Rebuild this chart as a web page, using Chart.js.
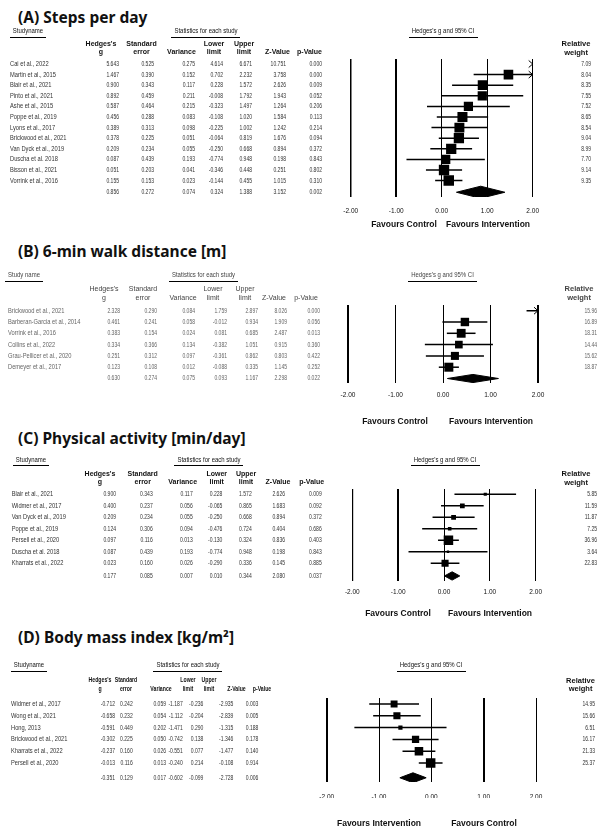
<!DOCTYPE html>
<html>
<head>
<meta charset="utf-8">
<title>Forest plots</title>
<script src="https://cdn.jsdelivr.net/npm/chart.js@4.4.1/dist/chart.umd.min.js"></script>
<style>
  html, body { margin:0; padding:0; background:#fff; }
  body { position:relative; width:611px; height:834px; overflow:hidden; }
  .ttl { position:absolute; left:18px; font-family:"Noto Sans","Open Sans",sans-serif; font-weight:700; font-size:15.5px; line-height:18px; color:#111; white-space:nowrap; }
  canvas { position:absolute; left:0; }
</style>
</head>
<body>
<div id="tA" class="ttl" style="top:8px"></div>
<div id="tB" class="ttl" style="top:242px"></div>
<div id="tC" class="ttl" style="top:429px"></div>
<div id="tD" class="ttl" style="top:628px"></div>
<canvas id="cA"></canvas>
<canvas id="cB"></canvas>
<canvas id="cC"></canvas>
<canvas id="cD"></canvas>
<script>
// ================= DATA =================
const panelTitles = ['(A) Steps per day', '(B) 6-min walk distance [m]', '(C) Physical activity [min/day]', '(D) Body mass index [kg/m\u00B2]'];
const xTickLabels = ['-2.00', '-1.00', '0.00', '1.00', '2.00'];
const statHeaders1 = ["Hedges's", 'Standard', '', 'Lower', 'Upper', '', ''];
const statHeaders2 = ['g', 'error', 'Variance', 'limit', 'limit', 'Z-Value', 'p-Value'];
const weightHeader = ['Relative', 'weight'];
const groupHeadersA = ['Studyname', 'Statistics for each study', "Hedges's g and 95% CI"];
const groupHeadersB = ['Study name', 'Statistics for each study', "Hedges's g and 95% CI"];
const groupHeadersC = ['Studyname', 'Statistics for each study', "Hedges's g and 95% CI"];
const groupHeadersD = ['Studyname', 'Statistics for each study', "Hedges's g and 95% CI"];
const favoursABC = ['Favours Control', 'Favours Intervention'];
const favoursD = ['Favours Intervention', 'Favours Control'];

// (A) Steps per day
const stepsStudies = ['Cai et al., 2022', 'Martin et al., 2015', 'Blair et al., 2021', 'Pinto et al., 2021', 'Ashe et al., 2015', 'Poppe et al., 2019', 'Lyons et al., 2017', 'Brickwood et al., 2021', 'Van Dyck et al., 2019', 'Duscha et al. 2018', 'Bisson et al., 2021', 'Vorrink et al., 2016'];
const stepsG     = [5.643, 1.467, 0.900, 0.892, 0.587, 0.456, 0.389, 0.378, 0.209, 0.087, 0.051, 0.155];
const stepsSE    = [0.525, 0.390, 0.343, 0.459, 0.464, 0.288, 0.313, 0.225, 0.234, 0.439, 0.203, 0.153];
const stepsVar   = [0.275, 0.152, 0.117, 0.211, 0.215, 0.083, 0.098, 0.051, 0.055, 0.193, 0.041, 0.023];
const stepsLower = [4.614, 0.702, 0.228, -0.008, -0.323, -0.108, -0.225, -0.064, -0.250, -0.774, -0.346, -0.144];
const stepsUpper = [6.671, 2.232, 1.572, 1.792, 1.497, 1.020, 1.002, 0.819, 0.668, 0.948, 0.448, 0.455];
const stepsZ     = [10.751, 3.758, 2.626, 1.943, 1.264, 1.584, 1.242, 1.676, 0.894, 0.198, 0.251, 1.015];
const stepsP     = [0.000, 0.000, 0.009, 0.052, 0.206, 0.113, 0.214, 0.094, 0.372, 0.843, 0.802, 0.310];
const stepsWeight = [7.09, 8.04, 8.35, 7.55, 7.52, 8.65, 8.54, 9.04, 8.99, 7.70, 9.14, 9.35];
const stepsPooled = [0.856, 0.272, 0.074, 0.324, 1.388, 3.152, 0.002];

// (B) 6-min walk distance
const walkStudies = ['Brickwood et al., 2021', 'Barberan-Garcia et al., 2014', 'Vorrink et al., 2016', 'Collins et al., 2022', 'Grau-Pellicer et al., 2020', 'Demeyer et al., 2017'];
const walkG     = [2.328, 0.461, 0.383, 0.334, 0.251, 0.123];
const walkSE    = [0.290, 0.241, 0.154, 0.366, 0.312, 0.108];
const walkVar   = [0.084, 0.058, 0.024, 0.134, 0.097, 0.012];
const walkLower = [1.759, -0.012, 0.081, -0.382, -0.361, -0.088];
const walkUpper = [2.897, 0.934, 0.685, 1.051, 0.862, 0.335];
const walkZ     = [8.026, 1.909, 2.487, 0.915, 0.803, 1.145];
const walkP     = [0.000, 0.056, 0.013, 0.360, 0.422, 0.252];
const walkWeight = [15.96, 16.89, 18.31, 14.44, 15.62, 18.87];
const walkPooled = [0.630, 0.274, 0.075, 0.093, 1.167, 2.298, 0.022];

// (C) Physical activity
const paStudies = ['Blair et al., 2021', 'Widmer et al., 2017', 'Van Dyck et al., 2019', 'Poppe et al., 2019', 'Persell et al., 2020', 'Duscha et al. 2018', 'Kharrats et al., 2022'];
const paG     = [0.900, 0.400, 0.209, 0.124, 0.097, 0.087, 0.023];
const paSE    = [0.343, 0.237, 0.234, 0.306, 0.116, 0.439, 0.160];
const paVar   = [0.117, 0.056, 0.055, 0.094, 0.013, 0.193, 0.026];
const paLower = [0.228, -0.065, -0.250, -0.476, -0.130, -0.774, -0.290];
const paUpper = [1.572, 0.865, 0.668, 0.724, 0.324, 0.948, 0.336];
const paZ     = [2.626, 1.683, 0.894, 0.404, 0.836, 0.198, 0.145];
const paP     = [0.009, 0.092, 0.372, 0.686, 0.403, 0.843, 0.885];
const paWeight = [5.85, 11.59, 11.87, 7.25, 36.96, 3.64, 22.83];
const paPooled = [0.177, 0.085, 0.007, 0.010, 0.344, 2.080, 0.037];

// (D) Body mass index
const bmiStudies = ['Widmer et al., 2017', 'Wong et al., 2021', 'Hong, 2013', 'Brickwood et al., 2021', 'Kharrats et al., 2022', 'Persell et al., 2020'];
const bmiG     = [-0.712, -0.658, -0.591, -0.302, -0.237, -0.013];
const bmiSE    = [0.242, 0.232, 0.449, 0.225, 0.160, 0.116];
const bmiVar   = [0.059, 0.054, 0.202, 0.050, 0.026, 0.013];
const bmiLower = [-1.187, -1.112, -1.471, -0.742, -0.551, -0.240];
const bmiUpper = [-0.236, -0.204, 0.290, 0.138, 0.077, 0.214];
const bmiZ     = [-2.935, -2.839, -1.315, -1.346, -1.477, -0.108];
const bmiP     = [0.003, 0.005, 0.188, 0.178, 0.140, 0.914];
const bmiWeight = [14.95, 15.66, 6.51, 16.17, 21.33, 25.37];
const bmiPooled = [-0.351, 0.129, 0.017, -0.602, -0.099, -2.728, 0.006];

// ================= LAYOUT (page pixels) =================
const layoutA = { top:22, bottom:236, xL:350.7, xR:532.7, lineTop:59, lineBottom:197, rowTop:64, step:10.6, pooledGap:0.1,
  grpY:31.5, grpCenters:[28,206,443], hdr1Y:44, hdr2Y:52.5, nameX:10, hdrSx:1,
  numRight:[119,154,195,223,252,286,322], hdrCenter:[101,141.5,181.5,214,244,277.5,309.5],
  relCenter:576, relRight:591, tickPad:10, favY:225, favCenters:[404,488],
  grid:[1.5,2,1,1,1], maxBox:10.5, diamondHalf:0.57, faint:false };
const layoutB = { top:266, bottom:432, xL:348, xR:538, lineTop:305, lineBottom:383, rowTop:310.7, step:11.3, pooledGap:0,
  grpY:275.5, grpCenters:[24,203.5,442.5], hdr1Y:289, hdr2Y:298, nameX:8, hdrSx:1,
  numRight:[120,157,195,227,258,287,320], hdrCenter:[104,143,183,213,245,274,306],
  relCenter:579, relRight:597, tickPad:8, favY:422, favCenters:[395,491],
  grid:[2,1,1,1,2], maxBox:9, diamondHalf:0.36, faint:true };
const layoutC = { top:450, bottom:624, xL:352.3, xR:535.7, lineTop:489, lineBottom:581, rowTop:494.3, step:11.5, pooledGap:0.1,
  grpY:460, grpCenters:[31,209,445], hdr1Y:474, hdr2Y:482.5, nameX:11.7, hdrSx:1,
  numRight:[116,152.7,192.7,222.3,251.7,285,321.7], hdrCenter:[100,142.7,182.7,216.7,246,278,311.7],
  relCenter:576, relRight:597, tickPad:7, favY:614, favCenters:[398,490],
  grid:[1.2,2,1,1,1], maxBox:9.5, diamondHalf:0.36, faint:false };
const layoutD = { top:656, bottom:834, xL:326.7, xR:536, lineTop:698, lineBottom:782, rowTop:704, step:11.8, pooledGap:0.25,
  grpY:665.5, grpCenters:[29,188,431], hdr1Y:680.5, hdr2Y:689, nameX:11, hdrSx:0.74,
  numRight:[115,132.7,166,182.7,203.3,233.3,258.3], hdrCenter:[100,126,161,188,209,236.5,262],
  relCenter:580.5, relRight:595, tickPad:11, favY:824, favCenters:[379,484],
  grid:[2,1,1,2,1], maxBox:9.5, diamondHalf:0.42, faint:false };

const panels = [
  { canvas:'cA', title:'tA', tIdx:0, L:layoutA, names:stepsStudies, g:stepsG, se:stepsSE, v:stepsVar, lo:stepsLower, hi:stepsUpper, z:stepsZ, p:stepsP, w:stepsWeight, pooled:stepsPooled, groups:groupHeadersA, fav:favoursABC },
  { canvas:'cB', title:'tB', tIdx:1, L:layoutB, names:walkStudies, g:walkG, se:walkSE, v:walkVar, lo:walkLower, hi:walkUpper, z:walkZ, p:walkP, w:walkWeight, pooled:walkPooled, groups:groupHeadersB, fav:favoursABC },
  { canvas:'cC', title:'tC', tIdx:2, L:layoutC, names:paStudies, g:paG, se:paSE, v:paVar, lo:paLower, hi:paUpper, z:paZ, p:paP, w:paWeight, pooled:paPooled, groups:groupHeadersC, fav:favoursABC },
  { canvas:'cD', title:'tD', tIdx:3, L:layoutD, names:bmiStudies, g:bmiG, se:bmiSE, v:bmiVar, lo:bmiLower, hi:bmiUpper, z:bmiZ, p:bmiP, w:bmiWeight, pooled:bmiPooled, groups:groupHeadersD, fav:favoursD }
];

const FONT = '"Liberation Sans", Arial, sans-serif';
Chart.defaults.font.family = FONT;

function txt(ctx, s, x, y, font, color, align, sx) {
  ctx.save();
  ctx.font = font; ctx.fillStyle = color; ctx.textBaseline = 'middle'; ctx.textAlign = 'left';
  const w = ctx.measureText(s).width * sx;
  const x0 = align === 'right' ? x - w : (align === 'center' ? x - w / 2 : x);
  ctx.translate(x0, y); ctx.scale(sx, 1); ctx.fillText(s, 0, 0);
  ctx.restore();
  return w;
}

function makeTablePlugin(P, k) {
  return {
    id: 'forestTable' + k,
    afterDraw(chart) {
      const L = P.L, ctx = chart.ctx, ys = chart.scales.y, xs = chart.scales.x, T = L.top;
      const n = P.names.length;
      const hdrColor = L.faint ? '#444' : '#111';
      const dataColor = L.faint ? '#666' : '#333';
      const hdrFont = (L.faint ? '' : 'bold ') + '7px ' + FONT;
      const dataFont = '7px ' + FONT;
      // group headers with underline
      P.groups.forEach((s, j) => {
        const w = txt(ctx, s, L.grpCenters[j], L.grpY - T, '6.5px ' + FONT, hdrColor, 'center', 0.92);
        ctx.fillStyle = '#000';
        ctx.fillRect(Math.round(L.grpCenters[j] - w / 2 - 3), Math.round(L.grpY - T + 5), Math.round(w + 6), 1);
      });
      // column headers
      statHeaders1.forEach((s, j) => { if (s) txt(ctx, s, L.hdrCenter[j], L.hdr1Y - T, hdrFont, hdrColor, 'center', L.hdrSx); });
      statHeaders2.forEach((s, j) => { if (s) txt(ctx, s, L.hdrCenter[j], L.hdr2Y - T, hdrFont, hdrColor, 'center', L.hdrSx); });
      txt(ctx, weightHeader[0], L.relCenter, L.hdr1Y - T, 'bold 7.5px ' + FONT, hdrColor, 'center', 1);
      txt(ctx, weightHeader[1], L.relCenter, L.hdr2Y - T, 'bold 7.5px ' + FONT, hdrColor, 'center', 1);
      // study rows
      const cols = [P.g, P.se, P.v, P.lo, P.hi, P.z, P.p];
      for (let i = 0; i < n; i++) {
        const y = ys.getPixelForValue(i);
        txt(ctx, P.names[i], L.nameX, y, dataFont, dataColor, 'left', 0.82);
        cols.forEach((arr, j) => txt(ctx, arr[i].toFixed(3), L.numRight[j], y, dataFont, dataColor, 'right', 0.72));
        txt(ctx, P.w[i].toFixed(2), L.relRight, y, dataFont, dataColor, 'right', 0.72);
      }
      // pooled row
      const py = ys.getPixelForValue(n + L.pooledGap);
      P.pooled.forEach((v, j) => txt(ctx, v.toFixed(3), L.numRight[j], py, dataFont, dataColor, 'right', 0.72));
      // arrows for CIs running past the axis maximum
      const xMax = xs.max, xr = xs.getPixelForValue(xMax);
      ctx.save();
      ctx.strokeStyle = '#000'; ctx.lineWidth = 1;
      for (let i = 0; i < n; i++) {
        if (P.hi[i] > xMax) {
          const y = ys.getPixelForValue(i);
          ctx.beginPath(); ctx.moveTo(xr - 4, y - 3.5); ctx.lineTo(xr, y); ctx.lineTo(xr - 4, y + 3.5); ctx.stroke();
        }
      }
      ctx.restore();
      // favours labels
      txt(ctx, P.fav[0], L.favCenters[0], L.favY - T, 'bold 8.5px ' + FONT, '#111', 'center', 1);
      txt(ctx, P.fav[1], L.favCenters[1], L.favY - T, 'bold 8.5px ' + FONT, '#111', 'center', 1);
    }
  };
}

function buildDatasets(P) {
  const L = P.L, n = P.names.length;
  const wmax = Math.max(...P.w);
  const ds = [];
  const py = n + L.pooledGap, h = L.diamondHalf;
  const pg = P.pooled[0], plo = P.pooled[3], phi = P.pooled[4];
  ds.push({ type:'line', showLine:true, data:[{x:plo,y:py},{x:pg,y:py-h},{x:phi,y:py}], borderColor:'#000', borderWidth:1, backgroundColor:'#000', fill:'+1', pointRadius:0, tension:0 });
  ds.push({ type:'line', showLine:true, data:[{x:plo,y:py},{x:pg,y:py+h},{x:phi,y:py}], borderColor:'#000', borderWidth:1, backgroundColor:'#000', fill:false, pointRadius:0, tension:0 });
  for (let i = 0; i < n; i++) {
    ds.push({ type:'line', showLine:true, data:[{x:P.lo[i],y:i},{x:P.hi[i],y:i}], borderColor:'#000', borderWidth:1.5, pointRadius:0, fill:false });
  }
  ds.push({ type:'scatter', data:P.g.map((g, i) => ({x:g, y:i})), pointStyle:'rect',
    pointRadius:P.w.map(w => L.maxBox * Math.pow(w / wmax, 0.6) / Math.SQRT2),
    backgroundColor:'#000', borderColor:'#000', borderWidth:0 });
  return ds;
}

panels.forEach((P, k) => {
  const L = P.L;
  document.getElementById(P.title).textContent = panelTitles[P.tIdx];
  const cv = document.getElementById(P.canvas);
  const H = L.bottom - L.top;
  cv.width = 611; cv.height = H; cv.style.top = L.top + 'px';
  const AXH = 16;
  new Chart(cv, {
    type: 'scatter',
    data: { datasets: buildDatasets(P) },
    options: {
      responsive: false, animation: false, events: [],
      layout: { padding: { left: L.xL, right: 611 - L.xR, top: L.lineTop - L.top, bottom: L.bottom - L.lineBottom - AXH } },
      plugins: { legend: { display:false }, tooltip: { enabled:false } },
      scales: {
        x: { type:'linear', min:-2, max:2, position:'bottom',
             ticks: { stepSize:1, autoSkip:false, maxRotation:0, padding:L.tickPad, color:'#111', font:{ size:6.5 },
                      callback: (v, i) => xTickLabels[i] },
             grid: { color:'#000', lineWidth: c => L.grid[c.index] || 1, drawTicks:false },
             border: { display:false },
             afterFit: s => { s.height = AXH; } },
        y: { type:'linear', reverse:true, display:false, bounds:'data',
             min: -(L.rowTop - L.lineTop) / L.step, max: (L.lineBottom - L.rowTop) / L.step }
      }
    },
    plugins: [makeTablePlugin(P, k)]
  });
});
</script>
</body>
</html>
